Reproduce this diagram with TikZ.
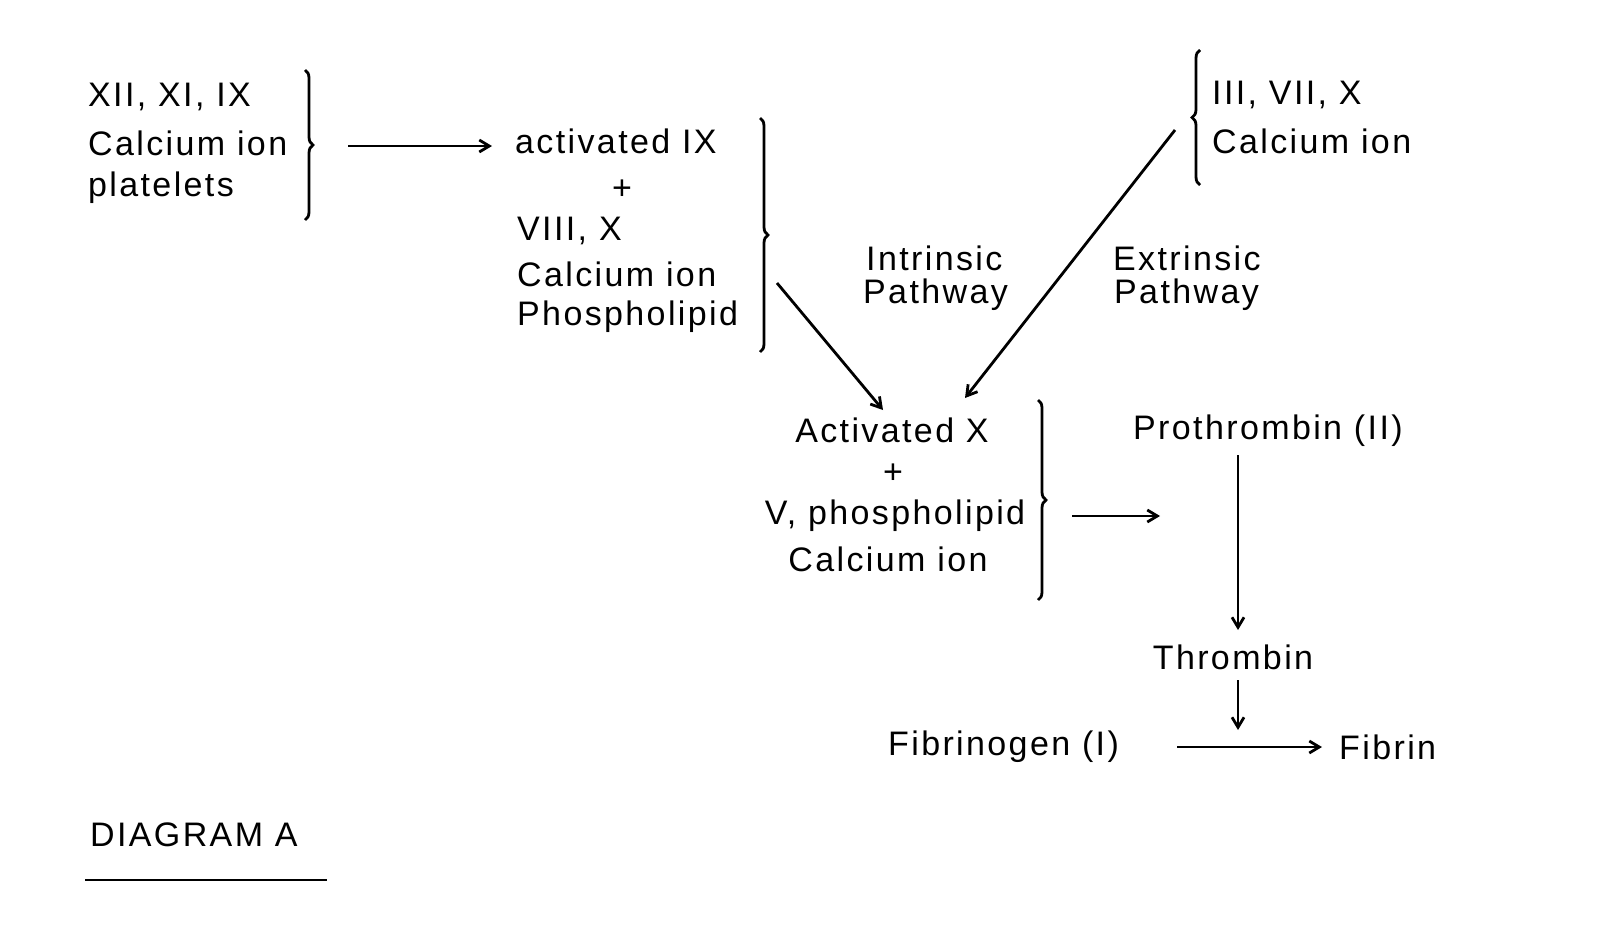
\documentclass[tikz,border=0pt]{standalone}
\usepackage{fontspec}
\setmainfont{Liberation Sans}[LetterSpace=7]
\usetikzlibrary{decorations.pathreplacing,arrows.meta}
\begin{document}
\begin{tikzpicture}[x=1pt,y=-1pt,
  t/.style={inner sep=0pt,font=\fontsize{34}{38}\selectfont},
  l/.style={t,anchor=west},
  c/.style={t,anchor=center},
  br/.style={decorate,decoration={brace,amplitude=8pt},line width=2.8pt},
  ar/.style={-{Straight Barb[length=10pt,width=12pt]},line width=2.8pt}]
\useasboundingbox (0,0) rectangle (1622,924);
% group 1
\node[l] (a1) at (88,97) {XII, XI, IX};
\node[l] (a2) at (88,143) {Calcium ion};
\node[l] (a3) at (88,188) {platelets};
\draw[br] (305,70) -- (305,220);
% group 2
\node[l] (g1) at (515,141) {activated IX};
\node[c] (g2) at (622,190) {+};
\node[l] (g3) at (517,231) {VIII, X};
\node[l] (g4) at (517,274) {Calcium ion};
\node[l] (g5) at (517,317) {Phospholipid};
\draw[br] (760,118) -- (760,352);
\coordinate (s1) at (348,146);
\coordinate (e1) at (492,146);
\draw[ar] (s1) -- (e1);
% extrinsic group
\draw[br] (1200,185) -- (1200,50);
\node[l] (x1) at (1212,95) {III, VII, X};
\node[l] (x2) at (1212,141) {Calcium ion};
\node[l] (ip1) at (866,258) {Intrinsic};
\node[l] (ip2) at (863,295) {Pathway};
\node[l] (ep1) at (1113,258) {Extrinsic};
\node[l] (ep2) at (1114,295) {Pathway};
\coordinate (s2) at (777,283);
\coordinate (e2) at (883,410);
\draw[ar] (s2) -- (e2);
\coordinate (s3) at (1175,130);
\coordinate (e3) at (965,398);
\draw[ar] (s3) -- (e3);
% group 3
\node[c] (h1) at (892,430) {Activated X};
\node[c] (h2) at (893,474) {+};
\node[c] (h3) at (895,516) {V, phospholipid};
\node[c] (h4) at (888,559) {Calcium ion};
\draw[br] (1038,400) -- (1038,600);
\coordinate (s4) at (1072,516);
\coordinate (e4) at (1160,516);
\draw[ar] (s4) -- (e4);
\node[l] (p) at (1133,431) {Prothrombin (II)};
\node[c] (th) at (1233,657) {Thrombin};
\coordinate (t1) at (1238,455);
\coordinate (t2) at (1238,630);
\draw[ar] (t1) -- (t2);
\coordinate (t3) at (1238,680);
\coordinate (t4) at (1238,730);
\draw[ar] (t3) -- (t4);
\node[l] (fg) at (888,747) {Fibrinogen (I)};
\node[l] (fb) at (1339,747) {Fibrin};
\coordinate (f1) at (1177,747);
\coordinate (f2) at (1322,747);
\draw[ar] (f1) -- (f2);
\node[l] (d) at (90,835) {DIAGRAM A};
\coordinate (u1) at (85,880);
\coordinate (u2) at (327,880);
\draw[line width=2.8pt] (u1) -- (u2);
\end{tikzpicture}
\end{document}
